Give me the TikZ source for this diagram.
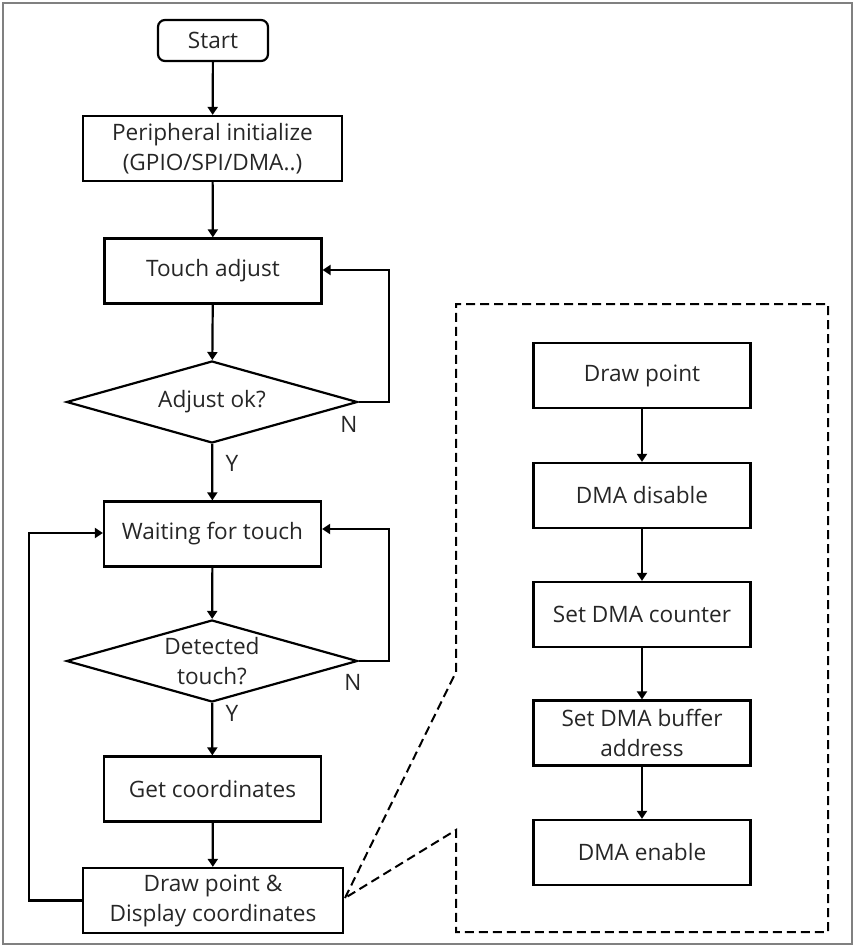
\documentclass[tikz,border=0pt]{standalone}
\usepackage{fontspec}
\setmainfont{Open Sans}
\usetikzlibrary{shapes.geometric,arrows.meta}
\begin{document}
\begin{tikzpicture}[x=1pt,y=-1pt,
  every node/.style={font=\fontsize{22.6}{30}\selectfont, text=black!85},
  box/.style={draw=black, line width=2.2pt, rectangle, minimum width=217pt, minimum height=65pt, inner sep=2pt, align=center},
  widebox/.style={box, minimum width=259pt},
  startbox/.style={draw=black, line width=2.2pt, rectangle, rounded corners=7pt, minimum width=110pt, minimum height=41pt, inner sep=2pt},
  decision/.style={draw=black, line width=2.2pt, diamond, shape aspect=3.5, minimum width=291pt, minimum height=82pt, inner sep=0pt, align=center},
  flow/.style={line width=2.2pt, -{Triangle[length=8pt,width=10pt]}},
  lbl/.style={inner sep=0pt},
  callout/.style={line width=2pt, dash pattern=on 9pt off 5pt}
]
\useasboundingbox (0,0) rectangle (857,948);
\draw[gray, line width=1.2pt] (3,3) rectangle (852,944);

% left column
\node[startbox] (start) at (213,40.5) {Start};
\node[widebox] (init) at (212.5,148.5) {Peripheral initialize\\(GPIO/SPI/DMA..)};
\node[box] (adj) at (213,271) {Touch adjust};
\node[decision] (adjok) at (212,402) {Adjust ok?};
\node[box] (wait) at (212.5,534) {Waiting for touch};
\node[decision] (det) at (212,661) {Detected\\touch?};
\node[box] (get) at (212.5,789) {Get coordinates};
\node[widebox, minimum width=260pt] (dp) at (213,900.5) {Draw point \&\\Display coordinates};

\node[lbl] (n1) at (349,424) {N};
\node[lbl] (y1) at (232,463) {Y};
\node[lbl] (n2) at (353,682) {N};
\node[lbl] (y2) at (232,713) {Y};

\coordinate (c1) at (389,402);
\coordinate (c2) at (389,270);
\coordinate (c3) at (389,661);
\coordinate (c4) at (389,529);
\coordinate (c5) at (29,900.5);
\coordinate (c6) at (29,533);

\draw[flow] (start) -- (init);
\draw[flow] (init) -- (adj);
\draw[flow] (adj) -- (adjok);
\draw[flow] (adjok) -- (wait);
\draw[flow] (wait) -- (det);
\draw[flow] (det) -- (get);
\draw[flow] (get) -- (dp);

\draw[flow] (adjok.east) -- (c1) -- (c2) -- (adj.east |- c2);
\draw[flow] (det.east) -- (c3) -- (c4) -- (wait.east |- c4);
\draw[flow] (dp.west) -- (c5) -- (c6) -- (wait.west |- c6);

% right column
\node[box] (r1) at (642,375.5) {Draw point};
\node[box] (r2) at (642,495.5) {DMA disable};
\node[box] (r3) at (642,614.5) {Set DMA counter};
\node[box] (r4) at (642,733) {Set DMA buffer\\address};
\node[box] (r5) at (642,852.5) {DMA enable};

\draw[flow] (r1) -- (r2);
\draw[flow] (r2) -- (r3);
\draw[flow] (r3) -- (r4);
\draw[flow] (r4) -- (r5);

% callout
\coordinate (k0) at (345,898);
\coordinate (k1) at (456,672);
\coordinate (k2) at (456,304);
\coordinate (k3) at (828,304);
\coordinate (k4) at (828,932);
\coordinate (k5) at (456,932);
\coordinate (k6) at (456,830);
\draw[callout] (k0) -- (k1) -- (k2) -- (k3) -- (k4) -- (k5) -- (k6) -- cycle;
\end{tikzpicture}
\end{document}
